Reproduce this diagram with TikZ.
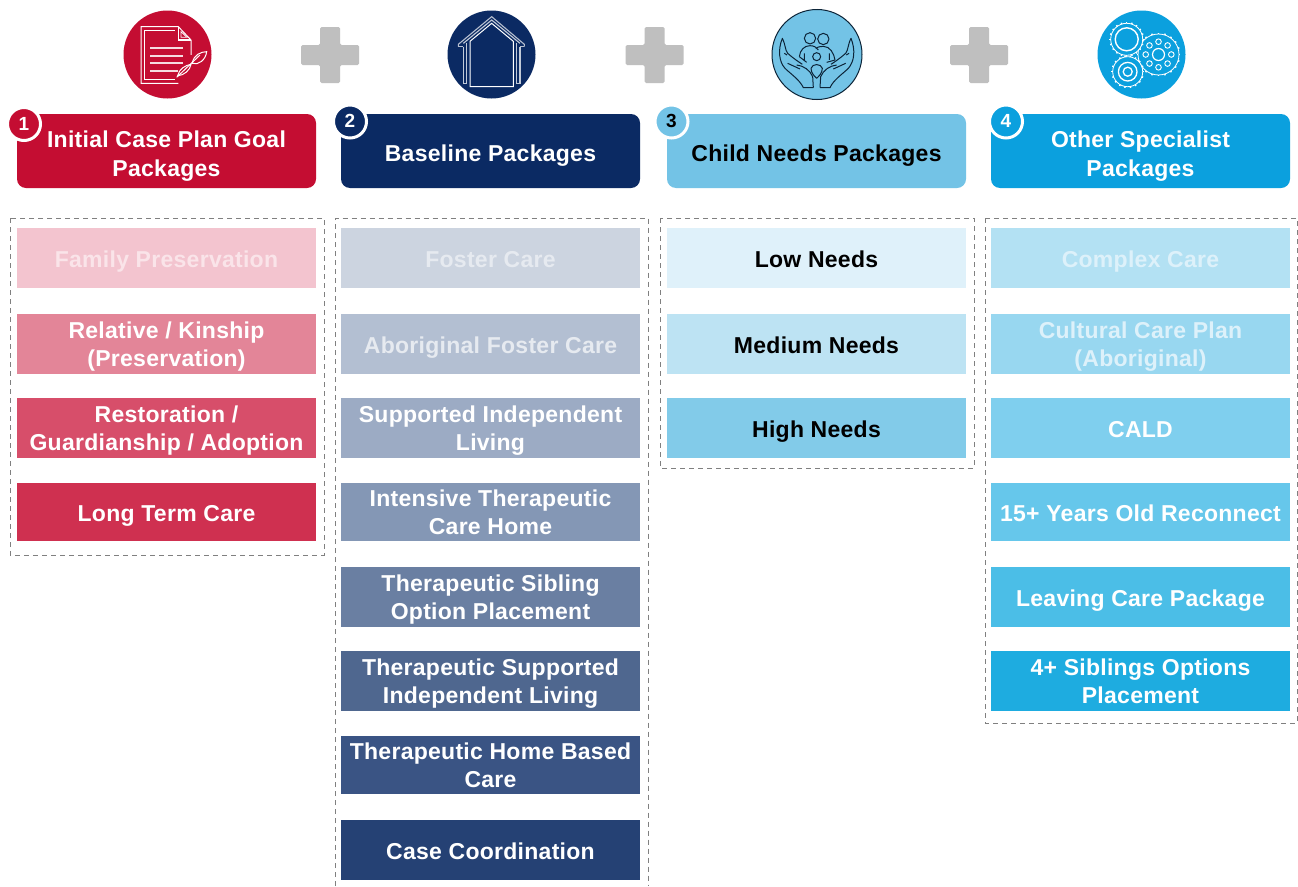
\documentclass[tikz,border=0pt]{standalone}
\usepackage{fontspec}
\setmainfont{Liberation Sans}[LetterSpace=1.2]
\definecolor{cred}{HTML}{C40D32}
\definecolor{cnavy}{HTML}{0B2A63}
\definecolor{clight}{HTML}{73C3E6}
\definecolor{cblue}{HTML}{0BA0DE}
\definecolor{cplus}{HTML}{BFBFBF}
\definecolor{cdash}{HTML}{808080}
\definecolor{cink}{HTML}{0C2438}
\definecolor{paleA}{HTML}{FAE4E9}
\definecolor{paleC}{HTML}{E6EAF0}
\definecolor{paleE}{HTML}{DDF1FA}
\tikzset{
 x=1pt,y=-1pt,
 pk/.style={rectangle,minimum width=299pt,inner sep=0pt,align=center,font=\fontsize{23}{28.5}\selectfont\bfseries,text=white,
   execute at begin node={\rule{0pt}{24pt}},execute at end node={\rule[-6pt]{0pt}{6pt}}},
 hd/.style={pk,rounded corners=9pt,minimum height=74pt,
   execute at begin node={\rule{0pt}{26pt}}},
 badge/.style={circle,draw=white,line width=3pt,minimum size=33pt,inner sep=0pt,font=\fontsize{19}{21}\selectfont\bfseries,text=white},
 frame/.style={draw=cdash,line width=1pt,dash pattern=on 5pt off 4pt},
 icon/.style={circle,minimum size=88pt,inner sep=0pt},
 plus/.style={fill=cplus,rounded corners=1.5pt},
 ic/.style={draw=white,line width=1pt},
 ink/.style={draw=cink,line width=1pt,line join=round},
}
\newcommand{\tl}[2]{\rule{0pt}{23pt}#1\\#2\rule[-5.5pt]{0pt}{5.5pt}}
\newcommand{\hl}[2]{\rule{0pt}{28pt}#1\\#2\rule[-5.5pt]{0pt}{5.5pt}}
\newcommand{\pkbox}[6]{\definecolor{fill#1}{HTML}{#5}\node[pk,fill=fill#1,minimum height=#3pt,#2] (#1) at (#6) {#4};}
\newcommand{\plusic}[1]{\fill[plus,shift={(#1,55)}] (-10,-28)--(10,-28)--(10,-10)--(29,-10)--(29,10)--(10,10)--(10,28)--(-10,28)--(-10,10)--(-29,10)--(-29,-10)--(-10,-10)--cycle;}
% centre x, centre y, radius, teeth
\newcommand{\gearic}[4]{%
 \draw[draw=white,line width=.8pt] (#1,#2) circle[radius=#3];
 \foreach \k in {1,...,#4}{\pgfmathsetmacro{\ang}{360*\k/#4}
   \draw[white,line width=1.5pt] ([shift={(#1,#2)}]\ang:#3) -- ([shift={(#1,#2)}]\ang:#3+1.4);}}
\begin{document}
\begin{tikzpicture}
\useasboundingbox (0,0) rectangle (1298,886);
\fill[white] (0,0) rectangle (1298,886);
% dashed frames
\draw[frame] (10,218) rectangle (324,555);
\draw[frame] (335.5,886) -- (335.5,218) -- (648,218) -- (648,886);
\draw[frame] (660,218) rectangle (974,468);
\draw[frame] (985,218) rectangle (1297,723);
% plus signs
\plusic{330}\plusic{654.5}\plusic{979}
% icons
\node[icon,fill=cred] (i1) at (167.5,54.5) {};
\node[icon,fill=cnavy] (i2) at (491.5,54.5) {};
\node[icon,fill=clight,draw=cink,line width=1pt,minimum size=90pt] (i3) at (817,54.5) {};
\node[icon,fill=cblue] (i4) at (1141.5,54.5) {};
% document icon
\begin{scope}[shift={(115,5)},scale=1/3]
 \draw[ic] (228,150) -- (228,105) -- (190,65) -- (78,65) -- (78,235) -- (190,235);
 \draw[ic] (180,75) -- (88,75) -- (88,225) -- (180,225);
 \draw[ic] (190,65) -- (190,105) -- (228,105);
 \draw[ic,line width=.8pt] (198,80) -- (198,97) -- (216,97) -- cycle;
 \draw[white!85!cred,line width=2.2pt] (105,128)--(205,128) (105,152)--(205,152) (105,175)--(205,175) (105,198)--(190,198);
 \draw[ic] (232,175) .. controls (235,150) and (258,140) .. (275,140) .. controls (272,165) and (250,182) .. (232,175) -- cycle;
 \draw[ic] (188,212) .. controls (192,192) and (212,180) .. (228,178) .. controls (226,195) and (206,212) .. (188,212) -- cycle;
 \draw[ic] (185,217) -- (255,150);
\end{scope}
% house icon
\begin{scope}[shift={(440,5)},scale=1/3]
 \draw[white!70!cnavy,line width=1.1pt] (55,125) -- (55,118) -- (155,35) -- (253,118) -- (253,125);
 \draw[white!70!cnavy,line width=1.1pt] (55,125) -- (70,125) (253,125) -- (240,125);
 \draw[white!75!cnavy,line width=1.1pt] (70,115) -- (155,45) -- (240,115);
 \draw[white!75!cnavy,line width=1.1pt] (70,125) -- (70,236) -- (80,236) -- (80,113) (240,125) -- (240,236) -- (230,236) -- (230,113);
 \draw[ic] (90,109) -- (155,55) -- (220,109) -- (220,245) -- (90,245) -- cycle;
\end{scope}
% family icon
\begin{scope}[shift={(765,5)},scale=1/3]
 \foreach \s/\o in {1/0,-1/310}{
 \begin{scope}[shift={(\o,0)},xscale=\s]
  \draw[ink] (145,248) -- (115,248) .. controls (105,225) and (75,205) .. (60,190) .. controls (42,170) and (38,135) .. (52,100) .. controls (62,120) and (60,135) .. (68,145) .. controls (85,160) and (100,170) .. (112,178);
  \draw[ink] (58,145) -- (66,150) (68,175) -- (105,192);
  \draw[ink] (95,180) .. controls (115,182) and (135,195) .. (143,215) -- (145,248);
 \end{scope}}
 \draw[ink] (135,100) circle[radius=17];
 \draw[ink] (175,102) circle[radius=17];
 \draw[ink] (155,155) circle[radius=12];
 \draw[ink] (103,155) .. controls (105,135) and (118,122) .. (135,122) .. controls (148,122) and (155,128) .. (160,135);
 \draw[ink] (152,130) .. controls (158,126) and (165,124) .. (175,124) .. controls (195,124) and (207,145) .. (210,165);
 \draw[ink] (103,155) -- (125,172) (210,165) -- (185,172) (118,145) -- (118,165) (193,145) -- (193,165);
 \draw[ink] (138,190) .. controls (142,175) and (168,175) .. (172,190) .. controls (172,205) and (160,215) .. (155,220) .. controls (150,215) and (138,205) .. (138,190) -- cycle;
\end{scope}
% gear icon
\gearic{1158.5}{54.5}{20.5}{20}
\draw[ic,line width=1.2pt] (1158.5,54.5) circle[radius=6];
\foreach \a in {0,45,...,315}{\draw[ic,line width=.9pt] ([shift={(1158.5,54.5)}]\a:12.8) circle[radius=2.8];}
\fill[cblue] (1126.7,39.3) circle[radius=16];
\gearic{1126.7}{39.3}{16}{20}
\draw[ic,line width=1.4pt] (1126.7,39.3) circle[radius=11.5];
\fill[cblue] (1127.7,71.7) circle[radius=15];
\gearic{1127.7}{71.7}{15}{18}
\draw[ic,line width=1.3pt] (1127.7,71.7) circle[radius=9.3];
\draw[ic,line width=1.3pt] (1127.7,71.7) circle[radius=4.5];
% headers
\node[hd,fill=cred] (h1) at (166.5,151) {\hl{Initial Case Plan Goal}{Packages}};
\node[hd,fill=cnavy] (h2) at (490.5,151) {Baseline Packages};
\node[hd,fill=clight,text=black] (h3) at (816.5,151) {Child Needs Packages};
\node[hd,fill=cblue] (h4) at (1140.5,151) {\hl{Other Specialist}{Packages}};
% badges
\node[badge,fill=cred] (b1) at (24,124) {\raisebox{1pt}{1}};
\node[badge,fill=cnavy] (b2) at (350,121.5) {\raisebox{1pt}{2}};
\node[badge,fill=clight,text=black] (b3) at (671.5,121.5) {\raisebox{1pt}{3}};
\node[badge,fill=cblue] (b4) at (1006,121.5) {\raisebox{1pt}{4}};
% column 1
\pkbox{a1}{text=paleA}{60}{Family Preservation}{F3C4CF}{166.5,258}
\pkbox{a2}{}{60}{\tl{Relative / Kinship}{(Preservation)}}{E38598}{166.5,344}
\pkbox{a3}{}{60}{\tl{Restoration /}{Guardianship / Adoption}}{D74E6A}{166.5,428}
\pkbox{a4}{}{58}{Long Term Care}{CF3050}{166.5,512}
% column 2
\pkbox{c1}{text=paleC}{60}{Foster Care}{CCD4E0}{490.5,258}
\pkbox{c2}{text=paleC}{60}{Aboriginal Foster Care}{B3BFD2}{490.5,344}
\pkbox{c3}{}{60}{\tl{Supported Independent}{Living}}{9CABC4}{490.5,428}
\pkbox{c4}{}{58}{\tl{Intensive Therapeutic}{Care Home}}{8497B5}{490.5,512}
\pkbox{c5}{}{60}{\tl{Therapeutic Sibling}{Option Placement}}{6A7FA2}{490.5,597}
\pkbox{c6}{}{60}{\tl{Therapeutic Supported}{Independent Living}}{4F678F}{490.5,681}
\pkbox{c7}{}{58}{\tl{Therapeutic Home Based}{Care}}{3A5484}{490.5,765}
\pkbox{c8}{}{60}{Case Coordination}{254174}{490.5,850}
% column 3
\pkbox{d1}{text=black}{60}{Low Needs}{DFF1FA}{816.5,258}
\pkbox{d2}{text=black}{60}{Medium Needs}{BDE3F3}{816.5,344}
\pkbox{d3}{text=black}{60}{High Needs}{82CBE9}{816.5,428}
% column 4
\pkbox{e1}{text=paleE}{60}{Complex Care}{B3E1F3}{1140.5,258}
\pkbox{e2}{text=paleE}{60}{\tl{Cultural Care Plan}{(Aboriginal)}}{98D7F0}{1140.5,344}
\pkbox{e3}{}{60}{CALD}{7FCFEE}{1140.5,428}
\pkbox{e4}{}{58}{15+ Years Old Reconnect}{66C7EB}{1140.5,512}
\pkbox{e5}{}{60}{Leaving Care Package}{4BBEE7}{1140.5,597}
\pkbox{e6}{}{60}{\tl{4+ Siblings Options}{Placement}}{1EACE0}{1140.5,681}
\end{tikzpicture}
\end{document}
